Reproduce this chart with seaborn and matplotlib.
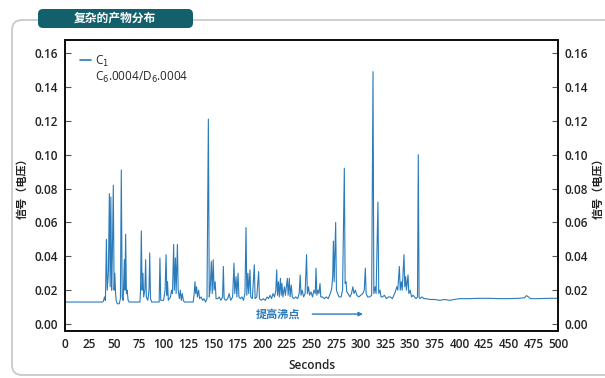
import numpy as np
import matplotlib
matplotlib.use("Agg")
import matplotlib.pyplot as plt
from matplotlib.patches import FancyBboxPatch
from matplotlib.lines import Line2D
import seaborn as sns

# signal trace (seconds, volts)
seconds = [
    0, 38, 39, 40, 41, 42, 42.8, 44, 45, 45.8, 46.5, 47.3, 48, 49, 49.8, 50.5, 51.3, 52, 53, 55,
    56.2, 57.1, 58, 59, 60.2, 60.8, 61.5, 62.3, 63, 64, 65, 76, 76.6, 77.4, 78.2, 79, 79.8, 81,
    81.8, 82.5, 84, 85.2, 85.9, 86.7, 88, 95.5, 96.3, 97.1, 100, 101.5, 102.5, 103.3, 104, 104.8,
    107, 108, 109, 110.2, 110.9, 112, 112.7, 114, 114.8, 116, 117, 118, 119, 120, 121, 130, 131,
    131.8, 132.5, 133.5, 134.3, 135.5, 136.5, 138, 139.5, 141, 142.5, 144, 145.4, 146.3, 147.2,
    148.4, 149.3, 150.3, 151.2, 152.3, 153.2, 155, 156.5, 158, 159.8, 160.6, 161.4, 163, 165,
    166.5, 168, 170, 171.4, 172.2, 173.5, 174.3, 175.5, 176.4, 178, 179.5, 181, 182.5, 183.6,
    184.4, 185.5, 186.3, 187.6, 188.4, 190, 192, 192.8, 194.5, 196.4, 197.2, 199, 201, 203, 205,
    206.5, 208, 209.5, 211, 212.5, 213.8, 214.7, 215.5, 216.5, 217.3, 218.5, 219.3, 220, 221,
    222.5, 223.5, 225.5, 226.3, 227.5, 228.3, 229.5, 230.5, 232, 234, 236, 237.5, 238.5, 239.4,
    240.5, 242, 243.5, 245, 245.8, 247, 248, 249.5, 251, 252.5, 253.8, 254.6, 255.4, 256.5,
    257.5, 258.6, 259.4, 261, 263, 265, 267, 269, 270.5, 271.5, 272.2, 273, 274.5, 275.3, 276.5,
    278, 280, 281.5, 283.3, 284.1, 285, 285.8, 287, 289, 290.5, 292, 293, 294.5, 296, 298, 300,
    302, 303.5, 304.6, 305.4, 307, 309, 311, 312.4, 313.2, 314.5, 315.5, 317.4, 318.2, 319.5,
    320.5, 322, 324, 326, 328, 330, 332, 333.5, 335, 336.5, 337.5, 339.1, 340, 341, 342, 343.8,
    344.6, 345.5, 346.3, 347.9, 348.7, 350, 351.5, 353, 354.5, 356, 357.5, 358.3, 359.1, 360,
    362, 364, 366, 370, 375, 380, 385, 390, 395, 400, 410, 420, 430, 440, 450, 460, 466, 468,
    470, 472, 480, 490, 500,
]
signal = [
    0.013, 0.013, 0.0135, 0.016, 0.014, 0.050, 0.020, 0.030, 0.077, 0.022, 0.075, 0.020, 0.040,
    0.082, 0.020, 0.030, 0.018, 0.0135, 0.012, 0.012, 0.015, 0.091, 0.016, 0.014, 0.038, 0.020,
    0.053, 0.018, 0.020, 0.014, 0.013, 0.013, 0.020, 0.055, 0.020, 0.030, 0.016, 0.020, 0.038,
    0.016, 0.014, 0.020, 0.042, 0.015, 0.013, 0.013, 0.039, 0.014, 0.014, 0.020, 0.041, 0.017,
    0.025, 0.014, 0.016, 0.020, 0.018, 0.047, 0.020, 0.039, 0.018, 0.047, 0.020, 0.015, 0.020,
    0.014, 0.018, 0.014, 0.013, 0.013, 0.018, 0.025, 0.018, 0.022, 0.016, 0.020, 0.015, 0.016,
    0.014, 0.015, 0.013, 0.015, 0.121, 0.016, 0.020, 0.037, 0.018, 0.038, 0.020, 0.025, 0.015,
    0.015, 0.016, 0.014, 0.016, 0.034, 0.015, 0.014, 0.015, 0.018, 0.014, 0.016, 0.036, 0.018,
    0.028, 0.016, 0.030, 0.016, 0.015, 0.016, 0.014, 0.018, 0.057, 0.017, 0.030, 0.018, 0.032,
    0.016, 0.015, 0.035, 0.015, 0.016, 0.031, 0.015, 0.014, 0.015, 0.014, 0.016, 0.015, 0.017,
    0.015, 0.018, 0.016, 0.020, 0.032, 0.017, 0.025, 0.016, 0.027, 0.017, 0.024, 0.016, 0.022,
    0.017, 0.027, 0.017, 0.027, 0.016, 0.023, 0.016, 0.015, 0.016, 0.015, 0.018, 0.029, 0.017,
    0.020, 0.016, 0.018, 0.041, 0.018, 0.022, 0.017, 0.019, 0.016, 0.020, 0.018, 0.033, 0.017,
    0.020, 0.018, 0.024, 0.016, 0.016, 0.015, 0.016, 0.015, 0.018, 0.021, 0.028, 0.049, 0.025,
    0.060, 0.020, 0.018, 0.016, 0.016, 0.020, 0.092, 0.024, 0.025, 0.019, 0.018, 0.016, 0.018,
    0.022, 0.018, 0.020, 0.017, 0.016, 0.017, 0.018, 0.020, 0.033, 0.018, 0.016, 0.016, 0.017,
    0.149, 0.018, 0.022, 0.018, 0.072, 0.018, 0.020, 0.016, 0.016, 0.017, 0.015, 0.016, 0.016,
    0.015, 0.017, 0.019, 0.022, 0.020, 0.034, 0.020, 0.025, 0.020, 0.041, 0.022, 0.028, 0.020,
    0.029, 0.018, 0.020, 0.016, 0.017, 0.016, 0.015, 0.016, 0.100, 0.016, 0.015, 0.016, 0.015,
    0.015, 0.0145, 0.0145, 0.014, 0.0145, 0.014, 0.0145, 0.015, 0.015, 0.0152, 0.0152, 0.015,
    0.015, 0.0152, 0.0155, 0.0168, 0.016, 0.015, 0.015, 0.0152, 0.0152,
]
x_ticks = list(range(0, 501, 25))
y_ticks = [0.00, 0.02, 0.04, 0.06, 0.08, 0.10, 0.12, 0.14, 0.16]

title = "复杂的产物分布"
y_label = "信号（电压）"
x_label = "Seconds"
legend_labels = ["C$_1$", "C$_6$.0004/D$_6$.0004"]
note = "提高沸点"

line_color = "#2b7bba"
teal = "#12606b"
W, H = 605, 378

sns.set_theme(style="white")
plt.rcParams["font.family"] = ["Open Sans", "Noto Sans CJK SC", "DejaVu Sans"]

fig = plt.figure(figsize=(W / 100, H / 100), dpi=100)

# outer rounded panel + title tab (figure pixel coords)
panel = FancyBboxPatch((12, 3), 640, 355, boxstyle="round,pad=0,rounding_size=10",
                       transform=None, fc="none", ec="#c9c9c9", lw=1.3, zorder=-1)
fig.patches.append(panel)
tab = FancyBboxPatch((38, H - 28), 155, 19, boxstyle="round,pad=0,rounding_size=5",
                     transform=None, fc=teal, ec=teal, lw=0, zorder=1)
fig.patches.append(tab)
fig.text(115 / W, 1 - 18 / H, title, color="white", fontsize=8.5, fontweight="bold",
         ha="center", va="center", family=["Noto Sans CJK SC", "DejaVu Sans"])

ax = fig.add_axes([65 / W, 1 - 331 / H, (558 - 65) / W, (331 - 40) / H])
sns.lineplot(x=seconds, y=signal, ax=ax, color=line_color, linewidth=0.8,
             estimator=None, sort=False)

ax.set_xlim(0, 500)
ax.set_ylim(-0.0041, 0.1677)
ax.set_xticks(x_ticks)
ax.set_yticks(y_ticks)
ax.set_yticklabels([f"{v:.2f}" for v in y_ticks])
ax.tick_params(direction="in", length=4, width=0.8, color="#555555",
               labelsize=8.5, labelcolor="#222222", pad=5)
for lab in ax.get_xticklabels() + ax.get_yticklabels():
    lab.set_fontweight("semibold")
for s in ax.spines.values():
    s.set_color("#111111")
    s.set_linewidth(1.4)

ax.set_xlabel(x_label, fontsize=8.5, fontweight="semibold", color="#222222", labelpad=6)
ax.set_ylabel(y_label, fontsize=8, fontweight="bold", color="#222222", labelpad=4,
              family=["Noto Sans CJK SC", "DejaVu Sans"])

ax2 = ax.twinx()
ax2.set_ylim(ax.get_ylim())
ax2.set_yticks(y_ticks)
ax2.set_yticklabels([f"{v:.2f}" for v in y_ticks])
ax2.tick_params(direction="in", length=4, width=0.8, color="#555555",
                labelsize=8.5, labelcolor="#222222", pad=5)
for lab in ax2.get_yticklabels():
    lab.set_fontweight("semibold")
ax2.set_ylabel(y_label, fontsize=8, fontweight="bold", color="#222222", labelpad=2,
               rotation=90, family=["Noto Sans CJK SC", "DejaVu Sans"])
for s in ax2.spines.values():
    s.set_color("#111111")
    s.set_linewidth(1.4)

handles = [Line2D([], [], color=line_color, lw=1.2), Line2D([], [], color="none")]
ax.legend(handles, legend_labels, loc="upper left", bbox_to_anchor=(0.02, 0.97),
          frameon=False, fontsize=8.5, handlelength=1.0, handletextpad=0.3,
          labelspacing=0.1, borderaxespad=0)

ax.annotate("", xy=(305, 0.0059), xytext=(248, 0.0059),
            arrowprops=dict(arrowstyle="-|>", color=line_color, lw=1.0,
                            mutation_scale=6))
ax.text(216, 0.0059, note, color=line_color, fontsize=8, fontweight="bold",
        ha="center", va="center", family=["Noto Sans CJK SC", "DejaVu Sans"])

fig.savefig("out.png", dpi=100)
